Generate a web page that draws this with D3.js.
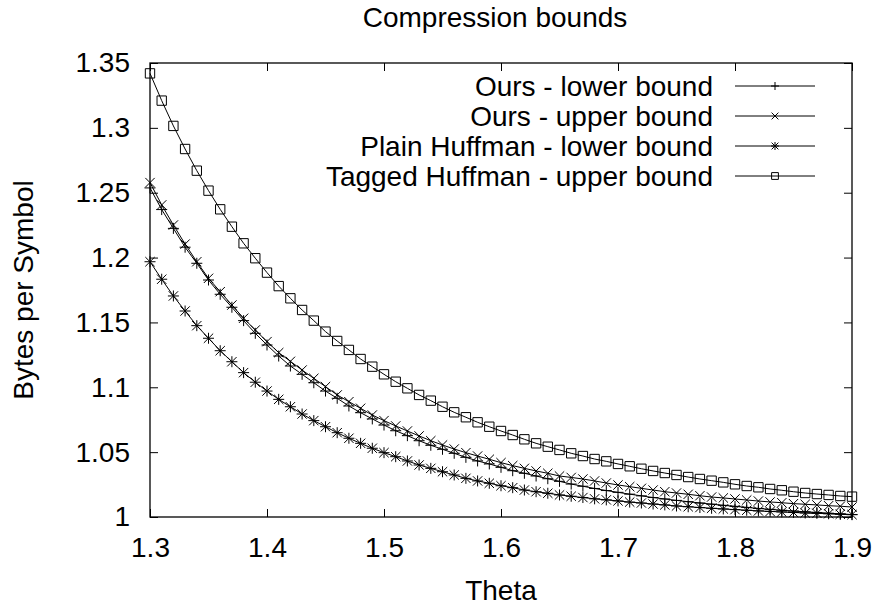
<!DOCTYPE html>
<html>
<head>
<meta charset="utf-8">
<script src="https://cdn.jsdelivr.net/npm/d3@7"></script>
<style>
  body { margin: 0; background: #fff; }
  svg { display: block; font-family: "Liberation Sans", Arial, sans-serif; }
</style>
</head>
<body>
<svg id="chart"></svg>
<script>
// Theta-Werte (x)
const theta = [
  1.30, 1.31, 1.32, 1.33, 1.34, 1.35, 1.36, 1.37, 1.38, 1.39,
  1.40, 1.41, 1.42, 1.43, 1.44, 1.45, 1.46, 1.47, 1.48, 1.49,
  1.50, 1.51, 1.52, 1.53, 1.54, 1.55, 1.56, 1.57, 1.58, 1.59,
  1.60, 1.61, 1.62, 1.63, 1.64, 1.65, 1.66, 1.67, 1.68, 1.69,
  1.70, 1.71, 1.72, 1.73, 1.74, 1.75, 1.76, 1.77, 1.78, 1.79,
  1.80, 1.81, 1.82, 1.83, 1.84, 1.85, 1.86, 1.87, 1.88, 1.89,
  1.90
];

// Reihen
const oursLower = [
  1.2537, 1.2370, 1.2225, 1.2080, 1.1956, 1.1827, 1.1717, 1.1617, 1.1514, 1.1416,
  1.1326, 1.1241, 1.1164, 1.1100, 1.1035, 1.0971, 1.0915, 1.0856, 1.0804, 1.0756,
  1.0709, 1.0665, 1.0627, 1.0588, 1.0553, 1.0522, 1.0491, 1.0460, 1.0432, 1.0409,
  1.0383, 1.0357, 1.0337, 1.0316, 1.0295, 1.0275, 1.0254, 1.0237, 1.0220, 1.0204,
  1.0190, 1.0176, 1.0163, 1.0150, 1.0139, 1.0128, 1.0118, 1.0108, 1.0099, 1.0090,
  1.0082, 1.0074, 1.0066, 1.0059, 1.0052, 1.0046, 1.0040, 1.0035, 1.0029, 1.0024,
  1.0019
];
const oursUpper = [
  1.2578, 1.2406, 1.2251, 1.2104, 1.1968, 1.1840, 1.1737, 1.1634, 1.1532, 1.1442,
  1.1352, 1.1267, 1.1200, 1.1133, 1.1069, 1.1005, 1.0941, 1.0889, 1.0838, 1.0786,
  1.0743, 1.0702, 1.0663, 1.0625, 1.0588, 1.0555, 1.0524, 1.0496, 1.0470, 1.0445,
  1.0419, 1.0396, 1.0375, 1.0355, 1.0337, 1.0316, 1.0305, 1.0293, 1.0278, 1.0262,
  1.0247, 1.0234, 1.0221, 1.0208, 1.0195, 1.0185, 1.0175, 1.0164, 1.0154, 1.0147,
  1.0139, 1.0131, 1.0123, 1.0116, 1.0110, 1.0103, 1.0098, 1.0093, 1.0087, 1.0083,
  1.0077
];
const plainLower = [
  1.1968, 1.1833, 1.1704, 1.1588, 1.1475, 1.1378, 1.1282, 1.1197, 1.1113, 1.1039,
  1.0971, 1.0907, 1.0850, 1.0794, 1.0743, 1.0696, 1.0650, 1.0607, 1.0568, 1.0530,
  1.0496, 1.0465, 1.0432, 1.0401, 1.0375, 1.0349, 1.0324, 1.0298, 1.0278, 1.0260,
  1.0241, 1.0226, 1.0208, 1.0195, 1.0183, 1.0170, 1.0160, 1.0150, 1.0140, 1.0132,
  1.0124, 1.0115, 1.0108, 1.0100, 1.0093, 1.0085, 1.0079, 1.0073, 1.0067, 1.0062,
  1.0057, 1.0052, 1.0047, 1.0043, 1.0039, 1.0035, 1.0031, 1.0028, 1.0025, 1.0021,
  1.0018
];
const taggedUpper = [
  1.3420, 1.3210, 1.3015, 1.2837, 1.2670, 1.2516, 1.2372, 1.2238, 1.2110, 1.1995,
  1.1884, 1.1780, 1.1686, 1.1596, 1.1514, 1.1429, 1.1357, 1.1288, 1.1218, 1.1159,
  1.1100, 1.1043, 1.0992, 1.0941, 1.0897, 1.0850, 1.0807, 1.0769, 1.0730, 1.0696,
  1.0663, 1.0632, 1.0599, 1.0568, 1.0542, 1.0517, 1.0491, 1.0470, 1.0447, 1.0429,
  1.0409, 1.0391, 1.0372, 1.0355, 1.0339, 1.0324, 1.0308, 1.0293, 1.0280, 1.0267,
  1.0252, 1.0239, 1.0229, 1.0216, 1.0206, 1.0195, 1.0185, 1.0177, 1.0170, 1.0162,
  1.0157
];

const seriesNames = [
  "Ours - lower bound",
  "Ours - upper bound",
  "Plain Huffman - lower bound",
  "Tagged Huffman - upper bound"
];
const seriesMarkers = ["plus", "cross", "star", "square"];

const xTickValues = [1.3, 1.4, 1.5, 1.6, 1.7, 1.8, 1.9];
const xTickLabels = ["1.3", "1.4", "1.5", "1.6", "1.7", "1.8", "1.9"];
const yTickValues = [1, 1.05, 1.1, 1.15, 1.2, 1.25, 1.3, 1.35];
const yTickLabels = ["1", "1.05", "1.1", "1.15", "1.2", "1.25", "1.3", "1.35"];

const width = 875, height = 607;
const margin = { top: 63, right: 23, bottom: 90, left: 150 };
const innerWidth  = width  - margin.left - margin.right;
const innerHeight = height - margin.top  - margin.bottom;
const fontSize = 28;

const svg = d3.select("#chart")
  .attr("width", width)
  .attr("height", height);

const g = svg.append("g")
  .attr("transform", `translate(${margin.left},${margin.top})`);

const x = d3.scaleLinear().domain([1.3, 1.9]).range([0, innerWidth]);
const y = d3.scaleLinear().domain([1, 1.35]).range([innerHeight, 0]);

// Achsen (Ticks nach innen, gespiegelt)
const styleAxis = sel => {
  sel.select(".domain").remove();
  sel.selectAll(".tick line").attr("stroke", "#000").attr("stroke-width", 1);
  sel.selectAll(".tick text")
    .attr("fill", "#000")
    .attr("font-size", fontSize + "px")
    .attr("font-family", "Liberation Sans, Arial, sans-serif");
};
const mirrorAxis = sel => {
  sel.select(".domain").remove();
  sel.selectAll(".tick text").remove();
  sel.selectAll(".tick line").attr("stroke", "#000").attr("stroke-width", 1);
};

g.append("g")
  .attr("transform", `translate(0,${innerHeight})`)
  .call(d3.axisBottom(x).tickValues(xTickValues)
    .tickFormat((d, i) => xTickLabels[i]).tickSize(-8).tickPadding(20))
  .call(styleAxis);

g.append("g")
  .call(d3.axisTop(x).tickValues(xTickValues).tickSize(-8))
  .call(mirrorAxis);

g.append("g")
  .call(d3.axisLeft(y).tickValues(yTickValues)
    .tickFormat((d, i) => yTickLabels[i]).tickSize(-8).tickPadding(20))
  .call(styleAxis);

g.append("g")
  .attr("transform", `translate(${innerWidth},0)`)
  .call(d3.axisRight(y).tickValues(yTickValues).tickSize(-8))
  .call(mirrorAxis);

// Rahmen
g.append("rect")
  .attr("width", innerWidth)
  .attr("height", innerHeight)
  .attr("fill", "none")
  .attr("stroke", "#000")
  .attr("stroke-width", 1.3);

// Marker-Pfade (gnuplot-Stil)
const markerPath = (type, r) => {
  const d = r * 0.85;
  if (type === "plus")  return `M${-r},0H${r}M0,${-r}V${r}`;
  if (type === "cross") return `M${-d},${-d}L${d},${d}M${-d},${d}L${d},${-d}`;
  if (type === "star")  return `M${-r},0H${r}M0,${-r}V${r}M${-d},${-d}L${d},${d}M${-d},${d}L${d},${-d}`;
  return `M${-d},${-d}H${d}V${d}H${-d}Z`;
};

const allSeries = [oursLower, oursUpper, plainLower, taggedUpper].map((vals, i) => ({
  name: seriesNames[i],
  marker: seriesMarkers[i],
  values: vals.map((v, j) => ({ t: theta[j], v }))
}));

const line = d3.line().x(d => x(d.t)).y(d => y(d.v));

const sg = g.selectAll(".series")
  .data(allSeries)
  .join("g")
  .attr("class", "series");

sg.append("path")
  .attr("d", d => line(d.values))
  .attr("fill", "none")
  .attr("stroke", "#000")
  .attr("stroke-width", 1);

sg.each(function(s) {
  d3.select(this).selectAll(".pt")
    .data(s.values)
    .join("path")
    .attr("class", "pt")
    .attr("transform", d => `translate(${x(d.t)},${y(d.v)})`)
    .attr("d", markerPath(s.marker, 5.5))
    .attr("fill", "none")
    .attr("stroke", "#000")
    .attr("stroke-width", 1);
});

// Legende
const rows = g.append("g").selectAll(".row")
  .data(allSeries)
  .join("g")
  .attr("class", "row")
  .attr("transform", (d, i) => `translate(0,${23 + i * 30})`);

rows.append("text")
  .attr("x", 713 - margin.left)
  .attr("dy", "0.35em")
  .attr("text-anchor", "end")
  .attr("font-size", fontSize + "px")
  .attr("fill", "#000")
  .text(d => d.name);

rows.append("line")
  .attr("x1", 735 - margin.left)
  .attr("x2", 815 - margin.left)
  .attr("stroke", "#000")
  .attr("stroke-width", 1);

rows.append("path")
  .attr("transform", `translate(${775 - margin.left},0)`)
  .attr("d", d => markerPath(d.marker, 4))
  .attr("fill", "none")
  .attr("stroke", "#000")
  .attr("stroke-width", 1);

// Titel und Achsenbeschriftungen
svg.append("text")
  .attr("x", margin.left + innerWidth / 2 - 6)
  .attr("y", 27)
  .attr("text-anchor", "middle")
  .attr("font-size", fontSize + "px")
  .attr("fill", "#000")
  .text("Compression bounds");

svg.append("text")
  .attr("x", margin.left + innerWidth / 2)
  .attr("y", 600)
  .attr("text-anchor", "middle")
  .attr("font-size", fontSize + "px")
  .attr("fill", "#000")
  .text("Theta");

svg.append("text")
  .attr("transform", `translate(33,${margin.top + innerHeight / 2}) rotate(-90)`)
  .attr("text-anchor", "middle")
  .attr("font-size", fontSize + "px")
  .attr("fill", "#000")
  .text("Bytes per Symbol");
</script>
</body>
</html>
